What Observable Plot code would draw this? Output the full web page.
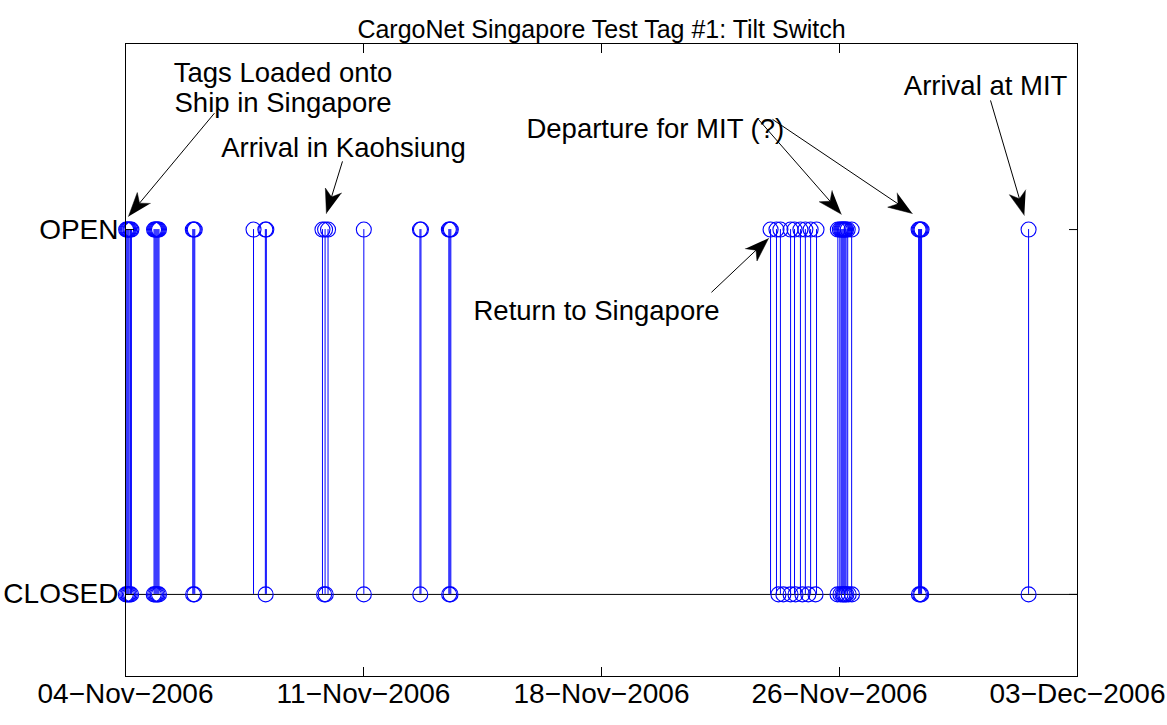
<!DOCTYPE html>
<html><head><meta charset="utf-8">
<script src="https://cdn.jsdelivr.net/npm/d3@7"></script>
<script src="https://cdn.jsdelivr.net/npm/@observablehq/plot@0.6"></script>
<style>body{margin:0;background:#fff;}</style>
</head><body><div id="chart"></div>
<script>
// ---- data (x in days since 04-Nov-2006 00:00) ----
const title = "CargoNet Singapore Test Tag #1: Tilt Switch";
const xTickDays = [0, 7.25, 14.5, 21.75, 29];
const xTickLabels = ["04\u2212Nov\u22122006", "11\u2212Nov\u22122006", "18\u2212Nov\u22122006", "26\u2212Nov\u22122006", "03\u2212Dec\u22122006"];
const yTickValues = [0, 1];
const yTickLabels = ["CLOSED", "OPEN"];

const openDays = [
  0.02, 0.05, 0.08, 0.11, 0.15, 0.18,
  0.87, 0.90, 0.93, 0.96, 0.99, 1.02,
  2.05, 2.08, 2.11,
  3.90,
  4.26, 4.29,
  6.00, 6.08, 6.17,
  7.26,
  8.97, 9.00,
  9.85, 9.88, 9.91,
  19.65, 19.83, 19.95, 20.26, 20.38, 20.56, 20.71, 20.87, 21.05,
  21.70, 21.76, 21.80, 21.83, 21.86, 21.89, 21.92, 21.95, 22.00, 22.12,
  24.16, 24.19, 24.22, 24.25,
  27.51
];
const closedDays = [
  0.01, 0.05, 0.09, 0.13, 0.17,
  0.86, 0.90, 0.94, 0.98, 1.02,
  2.06, 2.10,
  4.27,
  6.05, 6.10,
  7.26,
  8.98,
  9.86, 9.90,
  19.89, 20.04, 20.26, 20.41, 20.62, 20.80, 21.02,
  21.69, 21.78, 21.84, 21.88, 21.92, 21.96, 22.03, 22.13,
  24.17, 24.21, 24.24,
  27.51
];

// annotations: label text and anchor (data units), arrows from -> to (data units)
const noteTexts = ["Tags Loaded onto\nShip in Singapore", "Arrival in Kaohsiung", "Departure for MIT (?)", "Arrival at MIT", "Return to Singapore"];
const noteX = [4.8, 6.64, 16.14, 26.2, 14.35];
const noteY = [1.39, 1.225, 1.277, 1.395, 0.778];
const arrowX1 = [2.71, 6.61, 19.28, 19.71, 26.35, 17.85];
const arrowY1 = [1.319, 1.187, 1.302, 1.302, 1.354, 0.828];
const arrowX2 = [0.09, 6.12, 21.81, 23.97, 27.38, 19.59];
const arrowY2 = [1.036, 1.044, 1.042, 1.044, 1.039, 0.976];

// ---- layout ----
const W = 1167, H = 725, mL = 125, mR = 90, mT = 43, mB = 49;
const xDomain = [0, 29], yDomain = [-0.225, 1.51];
const FONT = "Liberation Sans, Arial, Helvetica, sans-serif";
const FS = 28, FS_NOTE = 27.5, FS_TITLE = 25;
const BLUE = "#0000ff";

const xs = Plot.scale({x: {domain: xDomain, range: [mL, W - mR]}});
const ys = Plot.scale({y: {domain: yDomain, range: [H - mB, mT]}});

// arrowheads (filled, MATLAB vback2-like) built in pixel space, mapped back to data
const headPts = [], shafts = [];
const L = 24, HW = 8.5, NOTCH = 0.72;
arrowX1.forEach((_, i) => {
  const sx = xs.apply(arrowX1[i]), sy = ys.apply(arrowY1[i]);
  const tx = xs.apply(arrowX2[i]), ty = ys.apply(arrowY2[i]);
  const dx = tx - sx, dy = ty - sy, len = Math.hypot(dx, dy);
  const ux = dx / len, uy = dy / len, nx = -uy, ny = ux;
  const pts = [
    [tx, ty],
    [tx - ux * L + nx * HW, ty - uy * L + ny * HW],
    [tx - ux * L * NOTCH, ty - uy * L * NOTCH],
    [tx - ux * L - nx * HW, ty - uy * L - ny * HW]
  ];
  pts.forEach(p => headPts.push({id: i, x: xs.invert(p[0]), y: ys.invert(p[1])}));
  shafts.push({x1: arrowX1[i], y1: arrowY1[i], x2: xs.invert(pts[2][0]), y2: ys.invert(pts[2][1])});
});

const opens = openDays.map(d => ({x: d, y: 1}));
const closeds = closedDays.map(d => ({x: d, y: 0}));
const notes = noteTexts.map((t, i) => ({text: t, x: noteX[i], y: noteY[i]}));

const plot = Plot.plot({
  width: W, height: H,
  marginLeft: mL, marginRight: mR, marginTop: mT, marginBottom: mB,
  style: {fontFamily: FONT, fontSize: FS + "px", color: "black", background: "white", overflow: "visible"},
  x: {domain: xDomain, label: null},
  y: {domain: yDomain, label: null},
  marks: [
    Plot.ruleY([0], {stroke: "black", strokeWidth: 1}),
    Plot.ruleX(opens, {x: "x", y1: 0, y2: 1, stroke: BLUE, strokeWidth: 1}),
    Plot.dot(opens, {x: "x", y: "y", r: 7.5, stroke: BLUE, strokeWidth: 1.1, fill: "none"}),
    Plot.dot(closeds, {x: "x", y: "y", r: 7.5, stroke: BLUE, strokeWidth: 1.1, fill: "none"}),
    Plot.frame({stroke: "black", strokeWidth: 1}),
    // inward ticks
    Plot.axisX(xTickDays, {anchor: "bottom", tickSize: -9, tickFormat: () => "", label: null}),
    Plot.axisX(xTickDays, {anchor: "top", tickSize: -9, tickFormat: () => "", label: null}),
    Plot.axisY(yTickValues, {anchor: "left", tickSize: -9, tickFormat: () => "", label: null}),
    Plot.axisY(yTickValues, {anchor: "right", tickSize: -9, tickFormat: () => "", label: null}),
    // tick labels
    Plot.axisX(xTickDays, {anchor: "bottom", tickSize: 0, tickPadding: 7, fontSize: FS, tickFormat: (d, i) => xTickLabels[i], label: null}),
    Plot.axisY(yTickValues, {anchor: "left", tickSize: 0, tickPadding: 7, fontSize: FS, tickFormat: (d, i) => yTickLabels[i], label: null}),
    // annotations
    Plot.link(shafts, {x1: "x1", y1: "y1", x2: "x2", y2: "y2", stroke: "black", strokeWidth: 1}),
    Plot.line(headPts, {x: "x", y: "y", z: "id", fill: "black", stroke: "black", strokeWidth: 0.5}),
    Plot.text(notes, {x: "x", y: "y", text: "text", fontSize: FS_NOTE, fill: "black", lineHeight: 1.09}),
    Plot.text([title], {frameAnchor: "top", dy: -23, text: d => d, fontSize: FS_TITLE, fill: "black"})
  ]
});
document.getElementById("chart").appendChild(plot);
</script>
</body></html>
